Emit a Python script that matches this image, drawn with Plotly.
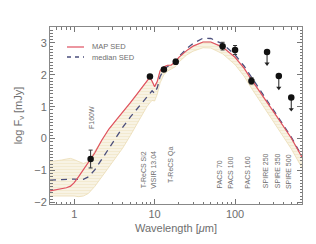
import numpy as np
import plotly.graph_objects as go

# ---------------- data ----------------
wl = [0.5, 0.6, 0.7, 0.8, 0.9, 1.0, 1.13, 1.3, 1.5, 1.8, 2.2, 2.7, 3.3, 4.0, 5.0, 6.0, 7.0,
      8.0, 8.7, 9.3, 10.0, 10.8, 11.7, 13.0, 14.5, 16.0, 18.0, 20.0, 25.0, 30.0, 40.0, 50.0,
      70.0, 100.0, 130.0, 160.0, 220.0, 330.0, 500.0, 680.0]
map_sed = [-1.64, -1.60, -1.57, -1.54, -1.49, -1.38, -1.20, -0.98, -0.77, -0.45, -0.05, 0.30,
           0.57, 0.82, 1.13, 1.39, 1.62, 1.82, 1.92, 1.80, 1.63, 1.80, 2.13, 2.25, 2.30, 2.30,
           2.40, 2.55, 2.76, 2.90, 3.03, 3.03, 2.87, 2.55, 2.20, 1.85, 1.35, 0.70, 0.02, -0.58]
median_sed = [-1.30, -1.29, -1.28, -1.27, -1.27, -1.27, -1.28, -1.28, -1.20, -0.98, -0.65,
              -0.30, 0.00, 0.35, 0.68, 0.93, 1.12, 1.30, 1.42, 1.50, 1.42, 1.60, 1.95, 2.15,
              2.27, 2.30, 2.38, 2.57, 2.82, 2.98, 3.15, 3.14, 2.97, 2.63, 2.27, 1.92, 1.40,
              0.74, 0.05, -0.56]
band_upper = [-0.72, -0.70, -0.67, -0.64, -0.62, -0.66, -0.72, -0.78, -0.72, -0.42, -0.05,
              0.30, 0.57, 0.82, 1.13, 1.39, 1.62, 1.82, 1.92, 1.80, 1.63, 1.80, 2.13, 2.25,
              2.30, 2.30, 2.40, 2.55, 2.76, 2.90, 3.03, 3.03, 2.87, 2.55, 2.20, 1.85, 1.35,
              0.70, 0.02, -0.58]
band_lower = [-1.80, -1.80, -1.79, -1.79, -1.78, -1.80, -1.82, -1.80, -1.72, -1.50, -1.20,
              -0.90, -0.62, -0.30, 0.10, 0.45, 0.75, 1.00, 1.12, 1.20, 1.18, 1.40, 1.75, 2.00,
              2.12, 2.17, 2.25, 2.40, 2.62, 2.74, 2.85, 2.84, 2.66, 2.32, 1.95, 1.58, 1.05,
              0.38, -0.32, -0.92]

phot_wl = [1.6, 8.74, 13.04, 18.3, 70.0, 100.0, 160.0]
phot_val = [-0.64, 1.95, 2.17, 2.41, 2.90, 2.78, 1.81]
phot_err = [0.28, 0.04, 0.04, 0.08, 0.12, 0.14, 0.10]

ul_wl = [250.0, 350.0, 500.0]
ul_val = [2.72, 1.96, 1.29]

band_names = ["F160W", "T-ReCS Si2", "VISIR 13.04", "T-ReCS Qa", "PACS 70", "PACS 100",
              "PACS 160", "SPIRE 250", "SPIRE 350", "SPIRE 500"]
label_wl = [1.61, 7.2, 9.6, 16.0, 65.0, 87.0, 145.0, 236.0, 333.0, 455.0]
label_y = [0.25, -1.63, -1.63, -1.45, -1.63, -1.63, -1.63, -1.63, -1.63, -1.63]

# ---------------- figure ----------------
GRAY = "#6e6e6e"
FONT = "Liberation Sans"
ARROW = 0.37  # length of the upper-limit arrows (style)

fig = go.Figure()

fig.add_trace(go.Scatter(x=wl, y=band_lower, mode="lines",
                         line=dict(color="#ebdcb4", width=0.8), showlegend=False,
                         hoverinfo="skip"))
fig.add_trace(go.Scatter(x=wl, y=band_upper, mode="lines", fill="tonexty",
                         fillcolor="rgba(246,240,222,1)",
                         fillpattern=dict(shape="-", fgcolor="#eadbb0", bgcolor="#f8f3e4",
                                          size=3, solidity=0.25),
                         line=dict(color="#ebdcb4", width=0.8), showlegend=False,
                         hoverinfo="skip"))

fig.add_trace(go.Scatter(x=wl, y=median_sed, mode="lines",
                         line=dict(color="#4b4f7c", width=1.3, dash="6px,5px"),
                         name="median SED", showlegend=False))
fig.add_trace(go.Scatter(x=wl, y=map_sed, mode="lines",
                         line=dict(color="#e05060", width=1.2),
                         name="MAP SED", showlegend=False))

fig.add_trace(go.Scatter(x=phot_wl, y=phot_val, mode="markers",
                         marker=dict(color="#111111", size=6.5),
                         error_y=dict(type="data", array=phot_err, color="#333333",
                                      thickness=1, width=2),
                         showlegend=False))
# upper limits: point, downward line and arrow head
fig.add_trace(go.Scatter(x=ul_wl, y=ul_val, mode="markers",
                         marker=dict(color="#111111", size=6.5),
                         error_y=dict(type="data", symmetric=False,
                                      array=[0] * len(ul_val),
                                      arrayminus=[ARROW] * len(ul_val),
                                      color="#222222", thickness=1, width=0),
                         showlegend=False))
fig.add_trace(go.Scatter(x=ul_wl, y=[v - ARROW for v in ul_val], mode="markers",
                         marker=dict(color="#222222", size=4.5, symbol="triangle-down"),
                         showlegend=False))

for name, w, yb in zip(band_names, label_wl, label_y):
    fig.add_annotation(x=np.log10(w), y=yb, xref="x", yref="y", text=name,
                       textangle=-90, showarrow=False, yanchor="bottom",
                       xanchor="center",
                       font=dict(size=7, color=GRAY, family=FONT))

# manual legend
L, R, T, B = 50, 302, 27, 204
def px(xp):
    return (xp - L) / (R - L)
def py(yp):
    return (B - yp) / (B - T)

fig.add_shape(type="line", xref="paper", yref="paper", x0=px(67), x1=px(84),
              y0=py(47), y1=py(47), line=dict(color="#e05060", width=1.2))
fig.add_shape(type="line", xref="paper", yref="paper", x0=px(67), x1=px(84),
              y0=py(57), y1=py(57), line=dict(color="#4b4f7c", width=1.3, dash="4px,4px"))
fig.add_annotation(x=px(90), y=py(47), xref="paper", yref="paper", text="MAP SED",
                   showarrow=False, xanchor="left", yanchor="middle",
                   font=dict(size=7.5, color=GRAY, family=FONT))
fig.add_annotation(x=px(90), y=py(57), xref="paper", yref="paper", text="median SED",
                   showarrow=False, xanchor="left", yanchor="middle",
                   font=dict(size=7.5, color=GRAY, family=FONT))

minor_x = [0.5, 0.6, 0.7, 0.8, 0.9, 2, 3, 4, 5, 6, 7, 8, 9, 20, 30, 40, 50, 60, 70, 80, 90,
           200, 300, 400, 500, 600]

fig.update_layout(
    width=316, height=244,
    margin=dict(l=L, r=316 - R, t=T, b=244 - B),
    paper_bgcolor="white", plot_bgcolor="white",
    font=dict(family=FONT, color=GRAY, size=11),
    xaxis=dict(type="log", range=[np.log10(0.5), np.log10(680)],
               tickvals=[1, 10, 100], ticktext=["1", "10", "100"],
               ticks="inside", ticklen=5, tickcolor="#777777",
               showline=True, linecolor="#888888", linewidth=1, mirror="allticks",
               showgrid=False, zeroline=False,
               minor=dict(tickvals=minor_x, ticks="inside", ticklen=2.5,
                          tickcolor="#777777", showgrid=False),
               title=dict(text="Wavelength [<i>μ</i>m]", standoff=5,
                          font=dict(size=11, color=GRAY, family=FONT)),
               tickfont=dict(size=11, color=GRAY)),
    yaxis=dict(range=[-2.05, 3.5], dtick=1, tick0=0,
               ticks="inside", ticklen=5, tickcolor="#777777",
               showline=True, linecolor="#888888", linewidth=1, mirror="allticks",
               showgrid=False, zeroline=False,
               minor=dict(dtick=0.1, ticks="inside", ticklen=2.5, tickcolor="#777777",
                          showgrid=False),
               title=dict(text="log F<sub>ν</sub> [mJy]", standoff=9,
                          font=dict(size=11, color=GRAY, family=FONT)),
               tickfont=dict(size=11, color=GRAY)),
)

fig.write_html("out.html", config={"displayModeBar": False},
               post_script="document.body.style.margin='0';")
